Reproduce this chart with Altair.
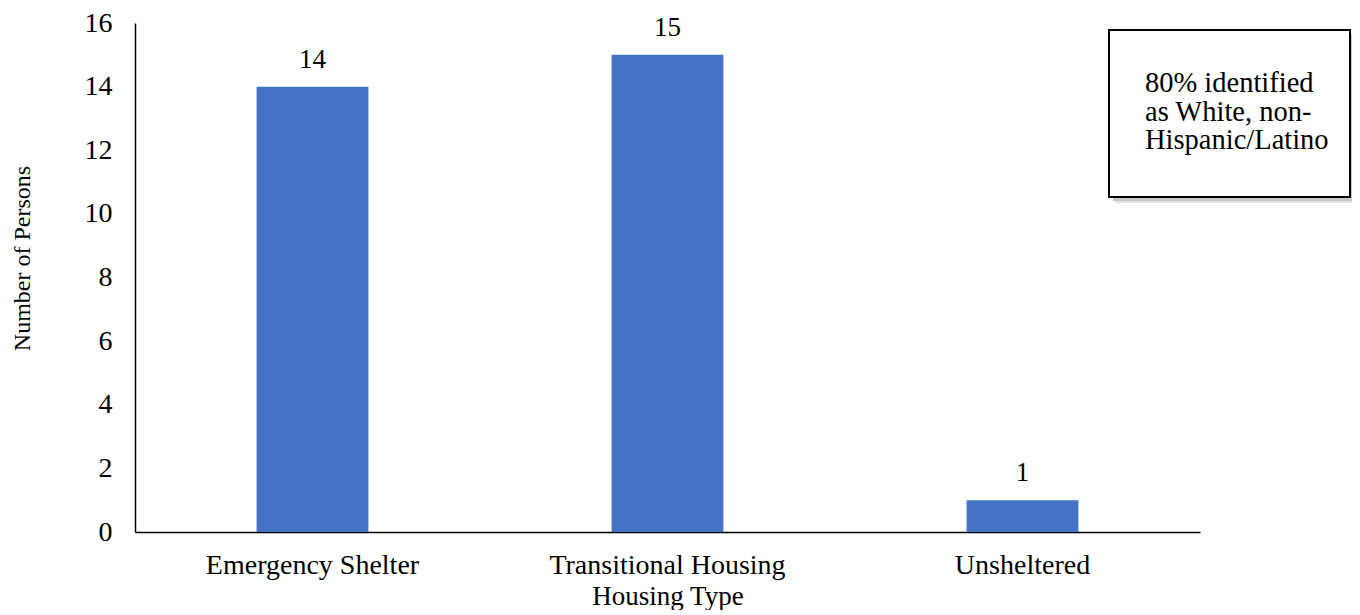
import altair as alt
import pandas as pd

categories = ["Emergency Shelter", "Transitional Housing", "Unsheltered"]
persons = [14, 15, 1]
y_ticks = [0, 2, 4, 6, 8, 10, 12, 14, 16]
note_lines = ["80% identified", "as White, non-", "Hispanic/Latino"]

df = pd.DataFrame({"type": categories, "persons": persons})
one = pd.DataFrame({"k": [0]})

FONT = "Liberation Serif"
W, H = 1065, 509
BAR = "#4472C4"

x = alt.X(
    "type:N", sort=categories, title="Housing Type",
    scale=alt.Scale(paddingInner=0.685, paddingOuter=0.3425),
    axis=alt.Axis(labelAngle=0, labelFontSize=28, labelFont=FONT, labelColor="black",
                  labelPadding=19, labelLimit=0, ticks=False, domainColor="black",
                  domainWidth=1.5,
                  titleFont=FONT, titleFontSize=27, titleFontWeight="normal",
                  titleColor="black", titleBaseline="alphabetic", titleY=72, titleX=W / 2),
)
y = alt.Y(
    "persons:Q", title="Number of Persons",
    scale=alt.Scale(domain=[0, 16], nice=False),
    axis=alt.Axis(values=y_ticks, grid=False, ticks=False, labelPadding=23,
                  labelFontSize=28, labelFont=FONT, labelColor="black",
                  domainColor="black", domainWidth=1.5,
                  titleFont=FONT, titleFontSize=24, titleFontWeight="normal",
                  titleColor="black", titleAngle=270, titleBaseline="middle",
                  titleX=-113, titleY=235),
)

bars = alt.Chart(df).mark_bar(color=BAR).encode(x=x, y=y)
labels = alt.Chart(df).mark_text(dy=-19, baseline="alphabetic", fontSize=27, font=FONT,
                                 color="black").encode(x=x, y=y, text="persons:Q")

shadow_outer = alt.Chart(one).mark_rect(color="#e2e2e2").encode(
    x=alt.value(980), x2=alt.value(1220), y=alt.value(13), y2=alt.value(180))
shadow = alt.Chart(one).mark_rect(color="#c8c8c8").encode(
    x=alt.value(978), x2=alt.value(1218), y=alt.value(11), y2=alt.value(178))
box = alt.Chart(one).mark_rect(fill="white", stroke="black", strokeWidth=2).encode(
    x=alt.value(974), x2=alt.value(1215), y=alt.value(7), y2=alt.value(174))
note = alt.Chart(one).mark_text(
    align="left", baseline="alphabetic", fontSize=28.5, font=FONT, color="black",
    lineBreak="\n", lineHeight=28.5).encode(
    x=alt.value(1010), y=alt.value(69), text=alt.value("\n".join(note_lines)))

chart = alt.layer(bars, labels, shadow_outer, shadow, box, note).properties(
    width=W, height=H,
    autosize=alt.AutoSizeParams(type="none"),
    padding={"left": 127, "top": 15, "right": 152, "bottom": 78},
).configure_view(stroke=None)

chart.save("out.html", embed_options={"renderer": "svg", "actions": False})
